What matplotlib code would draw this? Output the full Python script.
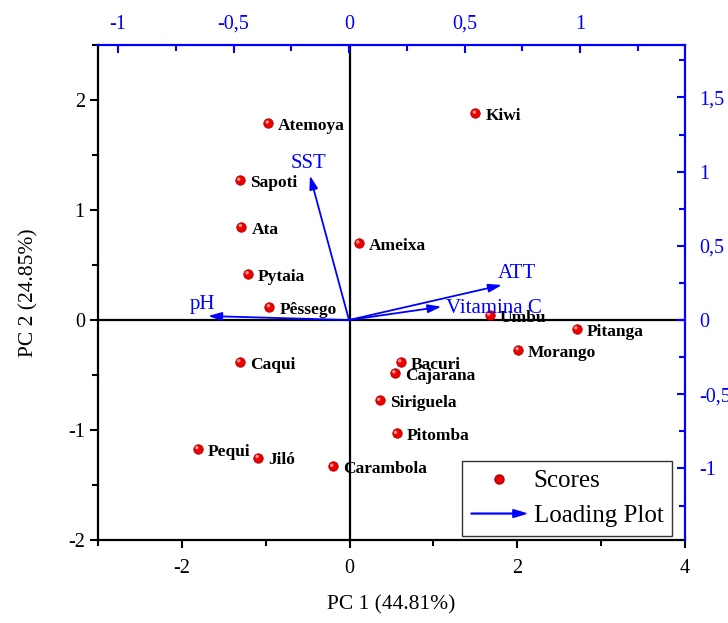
import matplotlib
matplotlib.use("Agg")
import matplotlib.pyplot as plt
from matplotlib.patches import FancyArrow
from matplotlib.legend_handler import HandlerPatch
from matplotlib.lines import Line2D
from matplotlib.ticker import MultipleLocator, FuncFormatter

plt.rcParams['font.family'] = ['Liberation Serif', 'DejaVu Serif']
plt.rcParams['axes.unicode_minus'] = False

# Scores (PC1 / PC2)
fruits = ["Atemoya", "Kiwi", "Sapoti", "Ata", "Ameixa", "Pytaia", "Pêssego", "Umbu",
          "Pitanga", "Morango", "Caqui", "Bacuri", "Cajarana", "Siriguela", "Pitomba",
          "Pequi", "Jiló", "Carambola"]
pc1 = [-0.97, 1.50, -1.31, -1.29, 0.11, -1.21, -0.955, 1.67,
       2.71, 2.01, -1.31, 0.61, 0.54, 0.36, 0.56,
       -1.81, -1.09, -0.20]
pc2 = [1.79, 1.88, 1.27, 0.85, 0.70, 0.42, 0.12, 0.045,
       -0.08, -0.27, -0.38, -0.38, -0.48, -0.73, -1.03,
       -1.17, -1.25, -1.33]

# Loadings (top / right axes)
variables = ["SST", "pH", "ATT", "Vitamina C"]
load1 = [-0.169, -0.61, 0.662, 0.40]
load2 = [0.973, 0.027, 0.236, 0.09]

blue = "#0000ff"
fig = plt.figure(figsize=(7.28, 6.23), dpi=100)
pos = [98/728, 83/623, 587/728, 495/623]
ax = fig.add_axes(pos)
ax.set_xlim(-3, 4)
ax.set_ylim(-2, 2.5)
ax.xaxis.set_major_locator(MultipleLocator(2))
ax.xaxis.set_minor_locator(MultipleLocator(1))
ax.yaxis.set_major_locator(MultipleLocator(1))
ax.yaxis.set_minor_locator(MultipleLocator(0.5))
ax.tick_params(which='both', direction='out', width=1.5, labelsize=14.5)
ax.tick_params(which='major', length=6)
ax.tick_params(which='minor', length=4)
ax.tick_params(axis='x', pad=8)
for s in ['left', 'bottom']:
    ax.spines[s].set_linewidth(1.6)
for s in ['top', 'right']:
    ax.spines[s].set_visible(False)
ax.set_xlabel("PC 1 (44.81%)", fontsize=15.5, labelpad=12)
ax.set_ylabel("PC 2 (24.85%)", fontsize=15.5, labelpad=21)
ax.axhline(0, color='black', lw=1.6, zorder=1)
ax.axvline(0, color='black', lw=1.6, zorder=1)

ax.scatter(pc1, pc2, s=46, color='#ee0000', edgecolors='#b00000', linewidths=0.6, zorder=3)
ax.scatter(pc1, pc2, s=6, color='#ff9090', edgecolors='none', zorder=4,
           transform=ax.transData + matplotlib.transforms.ScaledTranslation(-1/100, 1/100, fig.dpi_scale_trans))
for name, x, y in zip(fruits, pc1, pc2):
    ax.annotate(name, (x, y), xytext=(10, -3), textcoords='offset pixels',
                fontsize=12.5, fontweight='bold', va='center', ha='left', zorder=5)

# Loading axes
axl = fig.add_axes(pos, frameon=True)
axl.patch.set_alpha(0)
axl.set_xlim(-1.0866, 1.4545)
axl.set_ylim(-1.482, 1.853)
axl.xaxis.tick_top()
axl.yaxis.tick_right()
axl.xaxis.set_major_locator(MultipleLocator(0.5))
axl.xaxis.set_minor_locator(MultipleLocator(0.25))
axl.yaxis.set_major_locator(MultipleLocator(0.5))
axl.yaxis.set_minor_locator(MultipleLocator(0.25))
fmt = FuncFormatter(lambda v, p: ("%g" % v).replace('.', ','))
axl.xaxis.set_major_formatter(fmt)
axl.yaxis.set_major_formatter(fmt)
axl.tick_params(which='both', direction='in', width=1.5, colors=blue, labelcolor=blue, labelsize=14.5)
axl.tick_params(which='major', length=6)
axl.tick_params(which='minor', length=4)
axl.tick_params(axis='x', pad=8)
axl.tick_params(axis='y', pad=10)
for s in ['left', 'bottom']:
    axl.spines[s].set_visible(False)
for s in ['top', 'right']:
    axl.spines[s].set_color(blue)
    axl.spines[s].set_linewidth(1.6)

label_off = {"SST": (-0.005, 0.08), "pH": (0.03, 0.08), "ATT": (0.065, 0.075), "Vitamina C": (0.02, -0.013)}
label_ha = {"SST": 'center', "pH": 'right', "ATT": 'center', "Vitamina C": 'left'}
for v, x, y in zip(variables, load1, load2):
    axl.annotate("", xy=(x, y), xytext=(0, 0),
                 arrowprops=dict(arrowstyle='-|>,head_length=0.8,head_width=0.25', color=blue, lw=1.3,
                                 shrinkA=0, shrinkB=0), zorder=4)
    dx, dy = label_off[v]
    axl.text(x + dx, y + dy, v, color=blue, fontsize=15, ha=label_ha[v], va='center', zorder=5)

# Legend
def make_arrow(legend, orig_handle, xdescent, ydescent, width, height, fontsize):
    return FancyArrow(-xdescent, height/2 - ydescent, width, 0, length_includes_head=True,
                      head_width=height*0.45, head_length=width*0.24, width=0.6, color=blue)

score_h = Line2D([], [], marker='o', color='none', markerfacecolor='#ee0000',
                 markeredgecolor='#b00000', markersize=6.5)
arrow_h = FancyArrow(0, 0, 1, 0, color=blue)
leg = axl.legend([score_h, arrow_h], ["Scores", "Loading Plot"], loc='lower right',
                 bbox_to_anchor=(0.978, 0.008), fontsize=18, frameon=True, fancybox=False,
                 edgecolor='black', handlelength=2.2, handletextpad=0.3, borderpad=0.35,
                 labelspacing=0.5, borderaxespad=0.0,
                 handler_map={FancyArrow: HandlerPatch(patch_func=make_arrow)})
leg.get_frame().set_linewidth(1.0)

fig.savefig("out.png", dpi=100)
